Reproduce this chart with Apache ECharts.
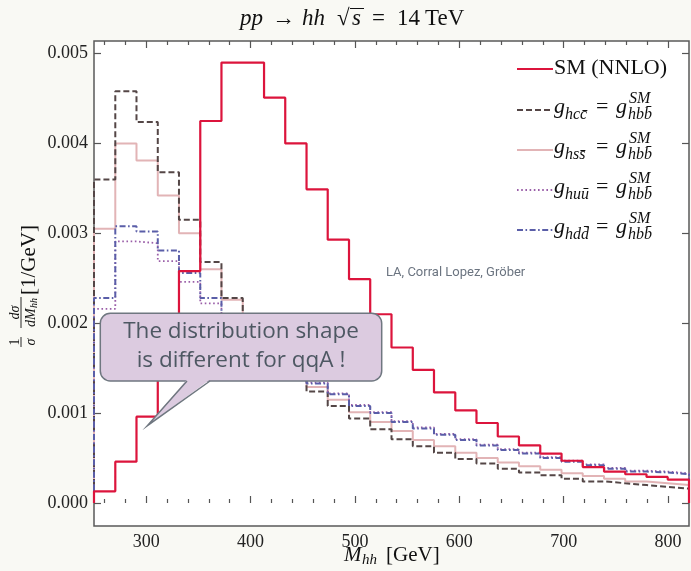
<!DOCTYPE html>
<html>
<head>
<meta charset="utf-8">
<script src="https://cdn.jsdelivr.net/npm/echarts@6/dist/echarts.min.js"></script>
<style>
html,body{margin:0;padding:0;background:#f9f9f4;}
#c{width:691px;height:571px;}
</style>
</head>
<body>
<div id="c"></div>
<script>
// ---- data ----
const binEdges = [250, 270.4, 290.7, 311.1, 331.4, 351.8, 372.1, 392.5, 412.9, 433.2,
  453.6, 473.9, 494.3, 514.6, 535, 555.4, 575.7, 596.1, 616.4, 636.8,
  657.1, 677.5, 697.9, 718.2, 738.6, 758.9, 779.3, 799.6, 820];

const smNNLO = [0.00013, 0.00046, 0.00096, 0.00180, 0.00258, 0.00425, 0.00490, 0.00490, 0.00451, 0.00400,
  0.00349, 0.00293, 0.00249, 0.00210, 0.00173, 0.00148, 0.00123, 0.00103, 0.00089, 0.00074,
  0.00064, 0.00055, 0.00047, 0.00040, 0.00035, 0.00032, 0.00029, 0.00026];

const gCharm = [0.00360, 0.00458, 0.00424, 0.00368, 0.00315, 0.00268, 0.00228, 0.00194, 0.00165, 0.00142,
  0.00124, 0.00108, 0.00094, 0.00082, 0.00071, 0.00063, 0.00056, 0.00049, 0.00044, 0.00038,
  0.00034, 0.00031, 0.00027, 0.00024, 0.00022, 0.00020, 0.00018, 0.00016];

const gStrange = [0.00305, 0.00400, 0.00381, 0.00342, 0.00300, 0.00260, 0.00226, 0.00196, 0.00169, 0.00147,
  0.00129, 0.00115, 0.00101, 0.00090, 0.00080, 0.00070, 0.00063, 0.00056, 0.00050, 0.00045,
  0.00041, 0.00037, 0.00033, 0.00030, 0.00027, 0.00024, 0.00022, 0.00020];

const gUp = [0.00216, 0.00291, 0.00289, 0.00269, 0.00246, 0.00222, 0.00198, 0.00178, 0.00161, 0.00146,
  0.00134, 0.00122, 0.00109, 0.00101, 0.00091, 0.00084, 0.00077, 0.00071, 0.00065, 0.00060,
  0.00056, 0.00051, 0.00047, 0.00043, 0.00039, 0.00036, 0.00035, 0.00033];

const gDown = [0.00228, 0.00308, 0.00302, 0.00281, 0.00256, 0.00228, 0.00200, 0.00178, 0.00160, 0.00145,
  0.00133, 0.00121, 0.00108, 0.00100, 0.00090, 0.00083, 0.00076, 0.00070, 0.00064, 0.00059,
  0.00055, 0.00050, 0.00046, 0.00042, 0.00038, 0.00035, 0.00034, 0.00032];

const xMajorTicks = [300, 400, 500, 600, 700, 800];
const xMinorTicks = [260, 280, 320, 340, 360, 380, 420, 440, 460, 480, 520, 540, 560, 580,
  620, 640, 660, 680, 720, 740, 760, 780];
const yTicks = [0, 0.001, 0.002, 0.003, 0.004, 0.005];

const legendSubs = ['hcc\u0304', 'hss\u0304', 'huu\u0304', 'hdd\u0304'];
const creditText = 'LA, Corral Lopez, Gr\u00f6ber';
const calloutText = 'The distribution shape\nis different for qqA !';

// ---- helpers ----
function stepPoints(vals) {
  const pts = [[binEdges[0], 0]];
  for (let i = 0; i < vals.length; i++) {
    pts.push([binEdges[i], vals[i]]);
    pts.push([binEdges[i + 1], vals[i]]);
  }
  pts.push([binEdges[binEdges.length - 1], 0]);
  return pts;
}

const SERIF = 'Liberation Serif';
const styles = [
  {name: 'SM (NNLO)', data: smNNLO, color: '#dc143c', width: 2.2, type: 'solid', z: 10},
  {name: 'hcc', data: gCharm, color: '#544646', width: 2, type: [6, 3], z: 5},
  {name: 'hss', data: gStrange, color: '#e2b4b6', width: 2, type: 'solid', z: 4},
  {name: 'huu', data: gUp, color: '#9a5ea8', width: 1.8, type: [1.6, 2.6], z: 6},
  {name: 'hdd', data: gDown, color: '#5a5ea8', width: 2, type: [6, 2.5, 1.6, 2.5], z: 7}
];

const chart = echarts.init(document.getElementById('c'), null, {renderer: 'canvas'});

const tickStyle = {color: '#555', width: 1.2};
function xAx(pos, ticks, len, labels) {
  return {
    type: 'value', position: pos, min: 250, max: 820,
    axisLine: {show: false}, splitLine: {show: false},
    axisTick: {show: true, inside: true, length: len, customValues: ticks, lineStyle: tickStyle},
    axisLabel: labels ? {customValues: ticks, fontFamily: SERIF, fontSize: 18, color: '#222', margin: 7}
                      : {show: false}
  };
}
function yAx(pos, labels) {
  return {
    type: 'value', position: pos, min: -0.000256, max: 0.00514,
    axisLine: {show: false}, splitLine: {show: false},
    axisTick: {show: true, inside: true, length: 7, customValues: yTicks, lineStyle: tickStyle},
    axisLabel: labels ? {customValues: yTicks, fontFamily: SERIF, fontSize: 18, color: '#222', margin: 6,
                         formatter: v => v.toFixed(3)}
                      : {show: false}
  };
}

// legend graphics
const legendY = [69, 110, 150, 190, 230];
const legendEls = [];
styles.forEach((s, i) => {
  const L = legendY[i];
  legendEls.push({
    type: 'line', shape: {x1: 517, y1: L, x2: 553, y2: L},
    style: {stroke: s.color, lineWidth: s.width, lineDash: s.type === 'solid' ? null : s.type}
  });
  if (i === 0) {
    legendEls.push({type: 'text', x: 554, y: L - 1,
      style: {text: 'SM (NNLO)', fontFamily: SERIF, fontSize: 22, fill: '#111', align: 'left', verticalAlign: 'middle'}});
  } else {
    const sub = legendSubs[i - 1];
    legendEls.push({type: 'text', x: 554, y: L - 3,
      style: {text: 'g', fontFamily: SERIF, fontStyle: 'italic', fontSize: 22, fill: '#111', align: 'left', verticalAlign: 'middle'}});
    legendEls.push({type: 'text', x: 565, y: L + 5,
      style: {text: sub, fontFamily: SERIF, fontStyle: 'italic', fontSize: 16, fill: '#111', align: 'left', verticalAlign: 'middle'}});
    legendEls.push({type: 'text', x: 596, y: L - 3,
      style: {text: '=', fontFamily: SERIF, fontSize: 22, fill: '#111', align: 'left', verticalAlign: 'middle'}});
    legendEls.push({type: 'text', x: 616, y: L - 3,
      style: {text: 'g', fontFamily: SERIF, fontStyle: 'italic', fontSize: 22, fill: '#111', align: 'left', verticalAlign: 'middle'}});
    legendEls.push({type: 'text', x: 629, y: L - 11,
      style: {text: 'SM', fontFamily: SERIF, fontStyle: 'italic', fontSize: 16, fill: '#111', align: 'left', verticalAlign: 'middle'}});
    legendEls.push({type: 'text', x: 628, y: L + 5,
      style: {text: 'hbb\u0304', fontFamily: SERIF, fontStyle: 'italic', fontSize: 16, fill: '#111', align: 'left', verticalAlign: 'middle'}});
  }
});

function txt(x, y, t, size, italic, align) {
  return {type: 'text', x: x, y: y,
    style: {text: t, fontFamily: SERIF, fontStyle: italic ? 'italic' : 'normal', fontSize: size,
            fill: '#111', align: align || 'left', verticalAlign: 'middle'}};
}

const option = {
  backgroundColor: '#f9f9f4',
  animation: false,
  grid: {left: 94, right: 2, top: 41, bottom: 45, show: true, backgroundColor: '#ffffff',
         borderColor: '#5a5a5a', borderWidth: 1.5},
  xAxis: [
    xAx('bottom', xMajorTicks, 7, true),
    xAx('bottom', xMinorTicks, 4, false),
    xAx('top', xMajorTicks, 7, false),
    xAx('top', xMinorTicks, 4, false)
  ],
  yAxis: [yAx('left', true), yAx('right', false)],
  series: styles.map(s => ({
    type: 'line', name: s.name, xAxisIndex: 0, yAxisIndex: 0,
    data: stepPoints(s.data), symbol: 'none', z: s.z, silent: true,
    lineStyle: {color: s.color, width: s.width, type: s.type}
  })),
  graphic: [
    // title
    txt(240, 19, 'pp', 23, true),
    txt(272, 19, '\u2192', 23, false),
    txt(302, 19, 'hh', 23, true),
    txt(337, 19, '\u221A', 23, false),
    txt(352, 19, 's', 23, true),
    {type: 'line', shape: {x1: 350, y1: 8.5, x2: 364, y2: 8.5}, style: {stroke: '#111', lineWidth: 1}},
    txt(372, 19, '=', 23, false),
    txt(397, 19, '14', 23, false),
    txt(425, 19, 'TeV', 23, false),
    // x axis name
    txt(344, 555, 'M', 21, true),
    txt(362, 560, 'hh', 15, true),
    txt(386, 555, '[GeV]', 21, false),
    // y axis name (rotated group)
    {type: 'group', x: 21, y: 348, rotation: Math.PI / 2, children: [
      {type: 'text', x: 6, y: -6, style: {text: '1', fontFamily: SERIF, fontSize: 14, fill: '#111', align: 'center', verticalAlign: 'middle'}},
      {type: 'line', shape: {x1: 1, y1: 0, x2: 11, y2: 0}, style: {stroke: '#111', lineWidth: 0.9}},
      {type: 'text', x: 6, y: 10, style: {text: '\u03c3', fontFamily: SERIF, fontStyle: 'italic', fontSize: 14, fill: '#111', align: 'center', verticalAlign: 'middle'}},
      {type: 'text', x: 35.5, y: -6, style: {text: 'd\u03c3', fontFamily: SERIF, fontStyle: 'italic', fontSize: 14, fill: '#111', align: 'center', verticalAlign: 'middle'}},
      {type: 'line', shape: {x1: 20, y1: 0, x2: 51, y2: 0}, style: {stroke: '#111', lineWidth: 0.9}},
      {type: 'text', x: 21, y: 10, style: {text: 'dM', fontFamily: SERIF, fontStyle: 'italic', fontSize: 14, fill: '#111', align: 'left', verticalAlign: 'middle'}},
      {type: 'text', x: 40, y: 13, style: {text: 'hh', fontFamily: SERIF, fontStyle: 'italic', fontSize: 10, fill: '#111', align: 'left', verticalAlign: 'middle'}},
      {type: 'text', x: 53, y: 8.5, style: {text: '[1/GeV]', fontFamily: SERIF, fontSize: 21, fill: '#111', align: 'left', verticalAlign: 'middle'}}
    ]},
    // credit
    {type: 'text', x: 386, y: 273, z: 20,
     style: {text: creditText, fontFamily: 'Roboto', fontSize: 13, fill: '#6b7480', align: 'left', verticalAlign: 'middle'}},
    // callout
    {type: 'rect', z: 30, shape: {x: 100.3, y: 313.3, width: 281.4, height: 67.7, r: 10},
     style: {fill: '#dccbe0', stroke: '#6f7780', lineWidth: 1.5}},
    {type: 'polygon', z: 31, shape: {points: [[187, 379.6], [147.3, 425.7], [210, 379.6]]},
     style: {fill: '#dccbe0', stroke: null}},
    {type: 'polyline', z: 32, shape: {points: [[187, 381], [147.3, 425.7], [210, 381]]},
     style: {fill: null, stroke: '#6f7780', lineWidth: 1.5}},
    {type: 'text', x: 241, y: 346, z: 33,
     style: {text: calloutText, fontFamily: 'Open Sans', fontSize: 22.5, lineHeight: 29, fill: '#4e5863',
             align: 'center', verticalAlign: 'middle'}}
  ].concat(legendEls)
};

chart.setOption(option);
</script>
</body>
</html>
